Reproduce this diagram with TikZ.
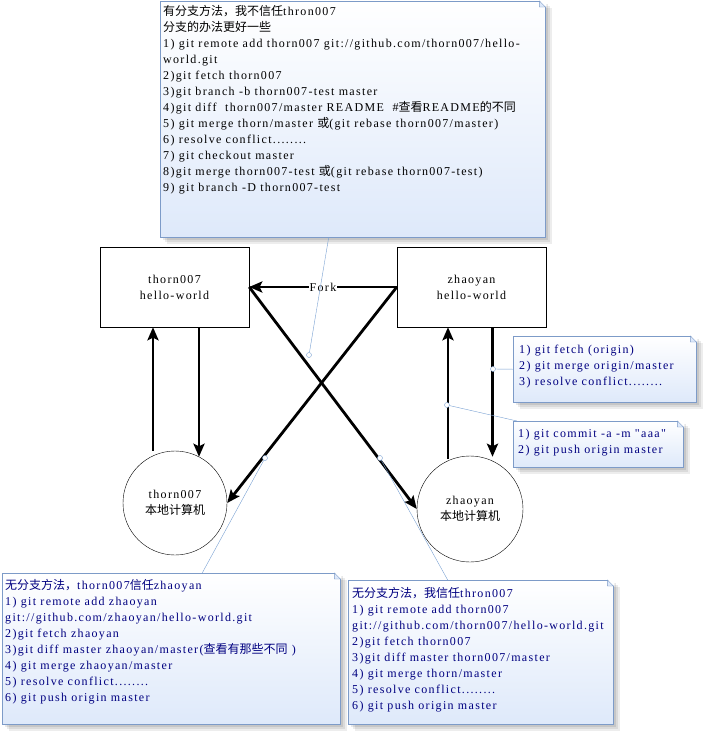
\documentclass[tikz,border=0pt]{standalone}
\usepackage{fontspec}
\setmainfont{Liberation Serif}[LetterSpace=11, Ligatures=TeXOff]
\newfontfamily\cjk{Noto Sans CJK SC}
\usetikzlibrary{arrows.meta,calc,positioning,shadows}
\definecolor{notebd}{RGB}{125,155,200}
\definecolor{notefill}{RGB}{222,233,250}
\definecolor{pincol}{RGB}{120,160,210}
\definecolor{navy}{RGB}{0,0,128}

\begin{document}
\begin{tikzpicture}[x=1pt, y=-1pt, font=\rmfamily\fontsize{12}{16}\selectfont]
    % --- Styles ---
    \tikzstyle{repo}=[draw=black, thin, minimum width=149pt, minimum height=80pt, align=center]
    \tikzstyle{local}=[draw=black, thin, circle, inner sep=0pt, align=center]
    \tikzstyle{flow}=[line width=2.8pt, -{Stealth[length=13pt, width=11pt, inset=2.5pt]}]

    % Callout box with soft shadow
    \tikzstyle{note}=[draw=notebd, top color=white, bottom color=notefill, anchor=north west, inner sep=0pt,
        general shadow={fill=black, opacity=.07, shadow xshift=7pt, shadow yshift=-7pt},
        general shadow={fill=black, opacity=.08, shadow xshift=5pt, shadow yshift=-5pt},
        general shadow={fill=black, opacity=.09, shadow xshift=3pt, shadow yshift=-3pt}]
    \tikzstyle{notetext}=[anchor=north west, align=left, inner xsep=4pt, inner ysep=4pt, text=navy]
    \tikzstyle{pointer}=[draw=pincol, thin]
    \tikzstyle{pindot}=[circle, draw=pincol, fill=white, thin, inner sep=0pt, minimum size=5pt]

    \useasboundingbox (0,0) rectangle (710,740);

    % --- 1. Repositories and local machines ---
    \node[repo] (thorn) at (174.5,287) {thorn007\\hello-world};
    \node[repo] (zhaoyan) at (471.5,287) {zhaoyan\\hello-world};
    \node[local, minimum size=104pt] (thornpc) at (175,503) {thorn007\\{\cjk 本地计算机}};
    \node[local, minimum size=106pt] (zhaopc) at (470,509) {zhaoyan\\{\cjk 本地计算机}};

    % --- 2. Arrows ---
    \draw[flow] (zhaoyan.west) -- node[fill=white, inner sep=1pt] (fork) {Fork} (thorn.east);
    \draw[flow] (zhaoyan.west) -- (thornpc.east);
    \draw[flow] (thorn.east) -- (zhaopc.west);

    \draw[flow] ([xshift=-22pt]thornpc.north) -- ([xshift=-21.5pt]thorn.south);
    \draw[flow] ([xshift=24.5pt]thorn.south) -- ([xshift=24pt, yshift=-6pt]thornpc.north);
    \draw[flow] ([xshift=-22pt, yshift=-3pt]zhaopc.north) -- ([xshift=-23.5pt]zhaoyan.south);
    \draw[flow] ([xshift=21pt]zhaoyan.south) -- ([xshift=22.5pt, yshift=-1pt]zhaopc.north);

    % --- 3. Callouts ---
    \node[note, minimum width=385pt, minimum height=236pt] (topnote) at (160,1) {};
    \node[notetext, text=black, inner xsep=3pt] (toptext) at (topnote.north west) {
        {\cjk 有分支方法，我不信任}thron007\\
        {\cjk 分支的办法更好一些}\\
        1) git remote add thorn007 git://github.com/thorn007/hello-\\
        world.git\\
        2)git fetch thorn007\\
        3)git branch -b thorn007-test master\\
        4)git diff\ \ thorn007/master README\ \ \#{\cjk 查看}README{\cjk 的不同}\\
        5) git merge thorn/master {\cjk 或}(git rebase thorn007/master)\\
        6) resolve conflict........\\
        7) git checkout master\\
        8)git merge thorn007-test {\cjk 或}(git rebase thorn007-test)\\
        9) git branch -D thorn007-test};

    \node[note, minimum width=183pt, minimum height=66pt] (fetchnote) at (513,336) {};
    \node[notetext, inner xsep=6pt, inner ysep=9pt] (fetchtext) at (fetchnote.north west) {
        1) git fetch (origin)\\
        2) git merge origin/master\\
        3) resolve conflict........};

    \node[note, minimum width=170pt, minimum height=46pt] (commitnote) at (513,421) {};
    \node[notetext, inner xsep=5pt, inner ysep=8pt] (committext) at (commitnote.north west) {
        1) git commit -a -m "aaa"\\
        2) git push origin master};

    \node[note, minimum width=338pt, minimum height=151pt] (leftnote) at (2,573) {};
    \node[notetext, inner xsep=3pt, inner ysep=6pt] (lefttext) at (leftnote.north west) {
        {\cjk 无分支方法，}thorn007{\cjk 信任}zhaoyan\\
        1) git remote add zhaoyan\\
        git://github.com/zhaoyan/hello-world.git\\
        2)git fetch zhaoyan\\
        3)git diff master zhaoyan/master({\cjk 查看有那些不同} )\\
        4) git merge zhaoyan/master\\
        5) resolve conflict........\\
        6) git push origin master};

    \node[note, minimum width=265pt, minimum height=144pt] (rightnote) at (348,580) {};
    \node[notetext, inner ysep=7pt] (righttext) at (rightnote.north west) {
        {\cjk 无分支方法，我信任}thron007\\
        1) git remote add thorn007\\
        git://github.com/thorn007/hello-world.git\\
        2)git fetch thorn007\\
        3)git diff master thorn007/master\\
        4) git merge thorn/master\\
        5) resolve conflict........\\
        6) git push origin master};

    % folded corners
    \foreach \n in {topnote, fetchnote, commitnote, leftnote, rightnote} {
        \fill[white] ($(\n.north east)+(-6.5,-1)$) -- ($(\n.north east)+(1,-1)$) -- ($(\n.north east)+(1,6.5)$) -- cycle;
        \filldraw[draw=notebd, fill=notefill] ($(\n.north east)+(-6,0)$) -- ($(\n.north east)+(0,6)$) -- ($(\n.north east)+(-6,6)$) -- cycle;
    }

    % --- 4. Callout pointers ---
    \node[pindot] (forkdot) at (309,355) {};
    \node[pindot] (fetchdot) at (493,369) {};
    \node[pindot] (commitdot) at (447,405) {};
    \node[pindot] (leftdot) at (265,458) {};
    \node[pindot] (rightdot) at (380,458) {};

    \draw[pointer] (forkdot) -- ([xshift=-24pt]topnote.south);
    \draw[pointer] (fetchdot) -- (fetchnote.west);
    \draw[pointer] (commitdot) -- ([xshift=4pt]commitnote.north west);
    \draw[pointer] (leftdot) -- ([xshift=31pt]leftnote.north);
    \draw[pointer] (rightdot) -- ([xshift=-33pt]rightnote.north);

\end{tikzpicture}
\end{document}
